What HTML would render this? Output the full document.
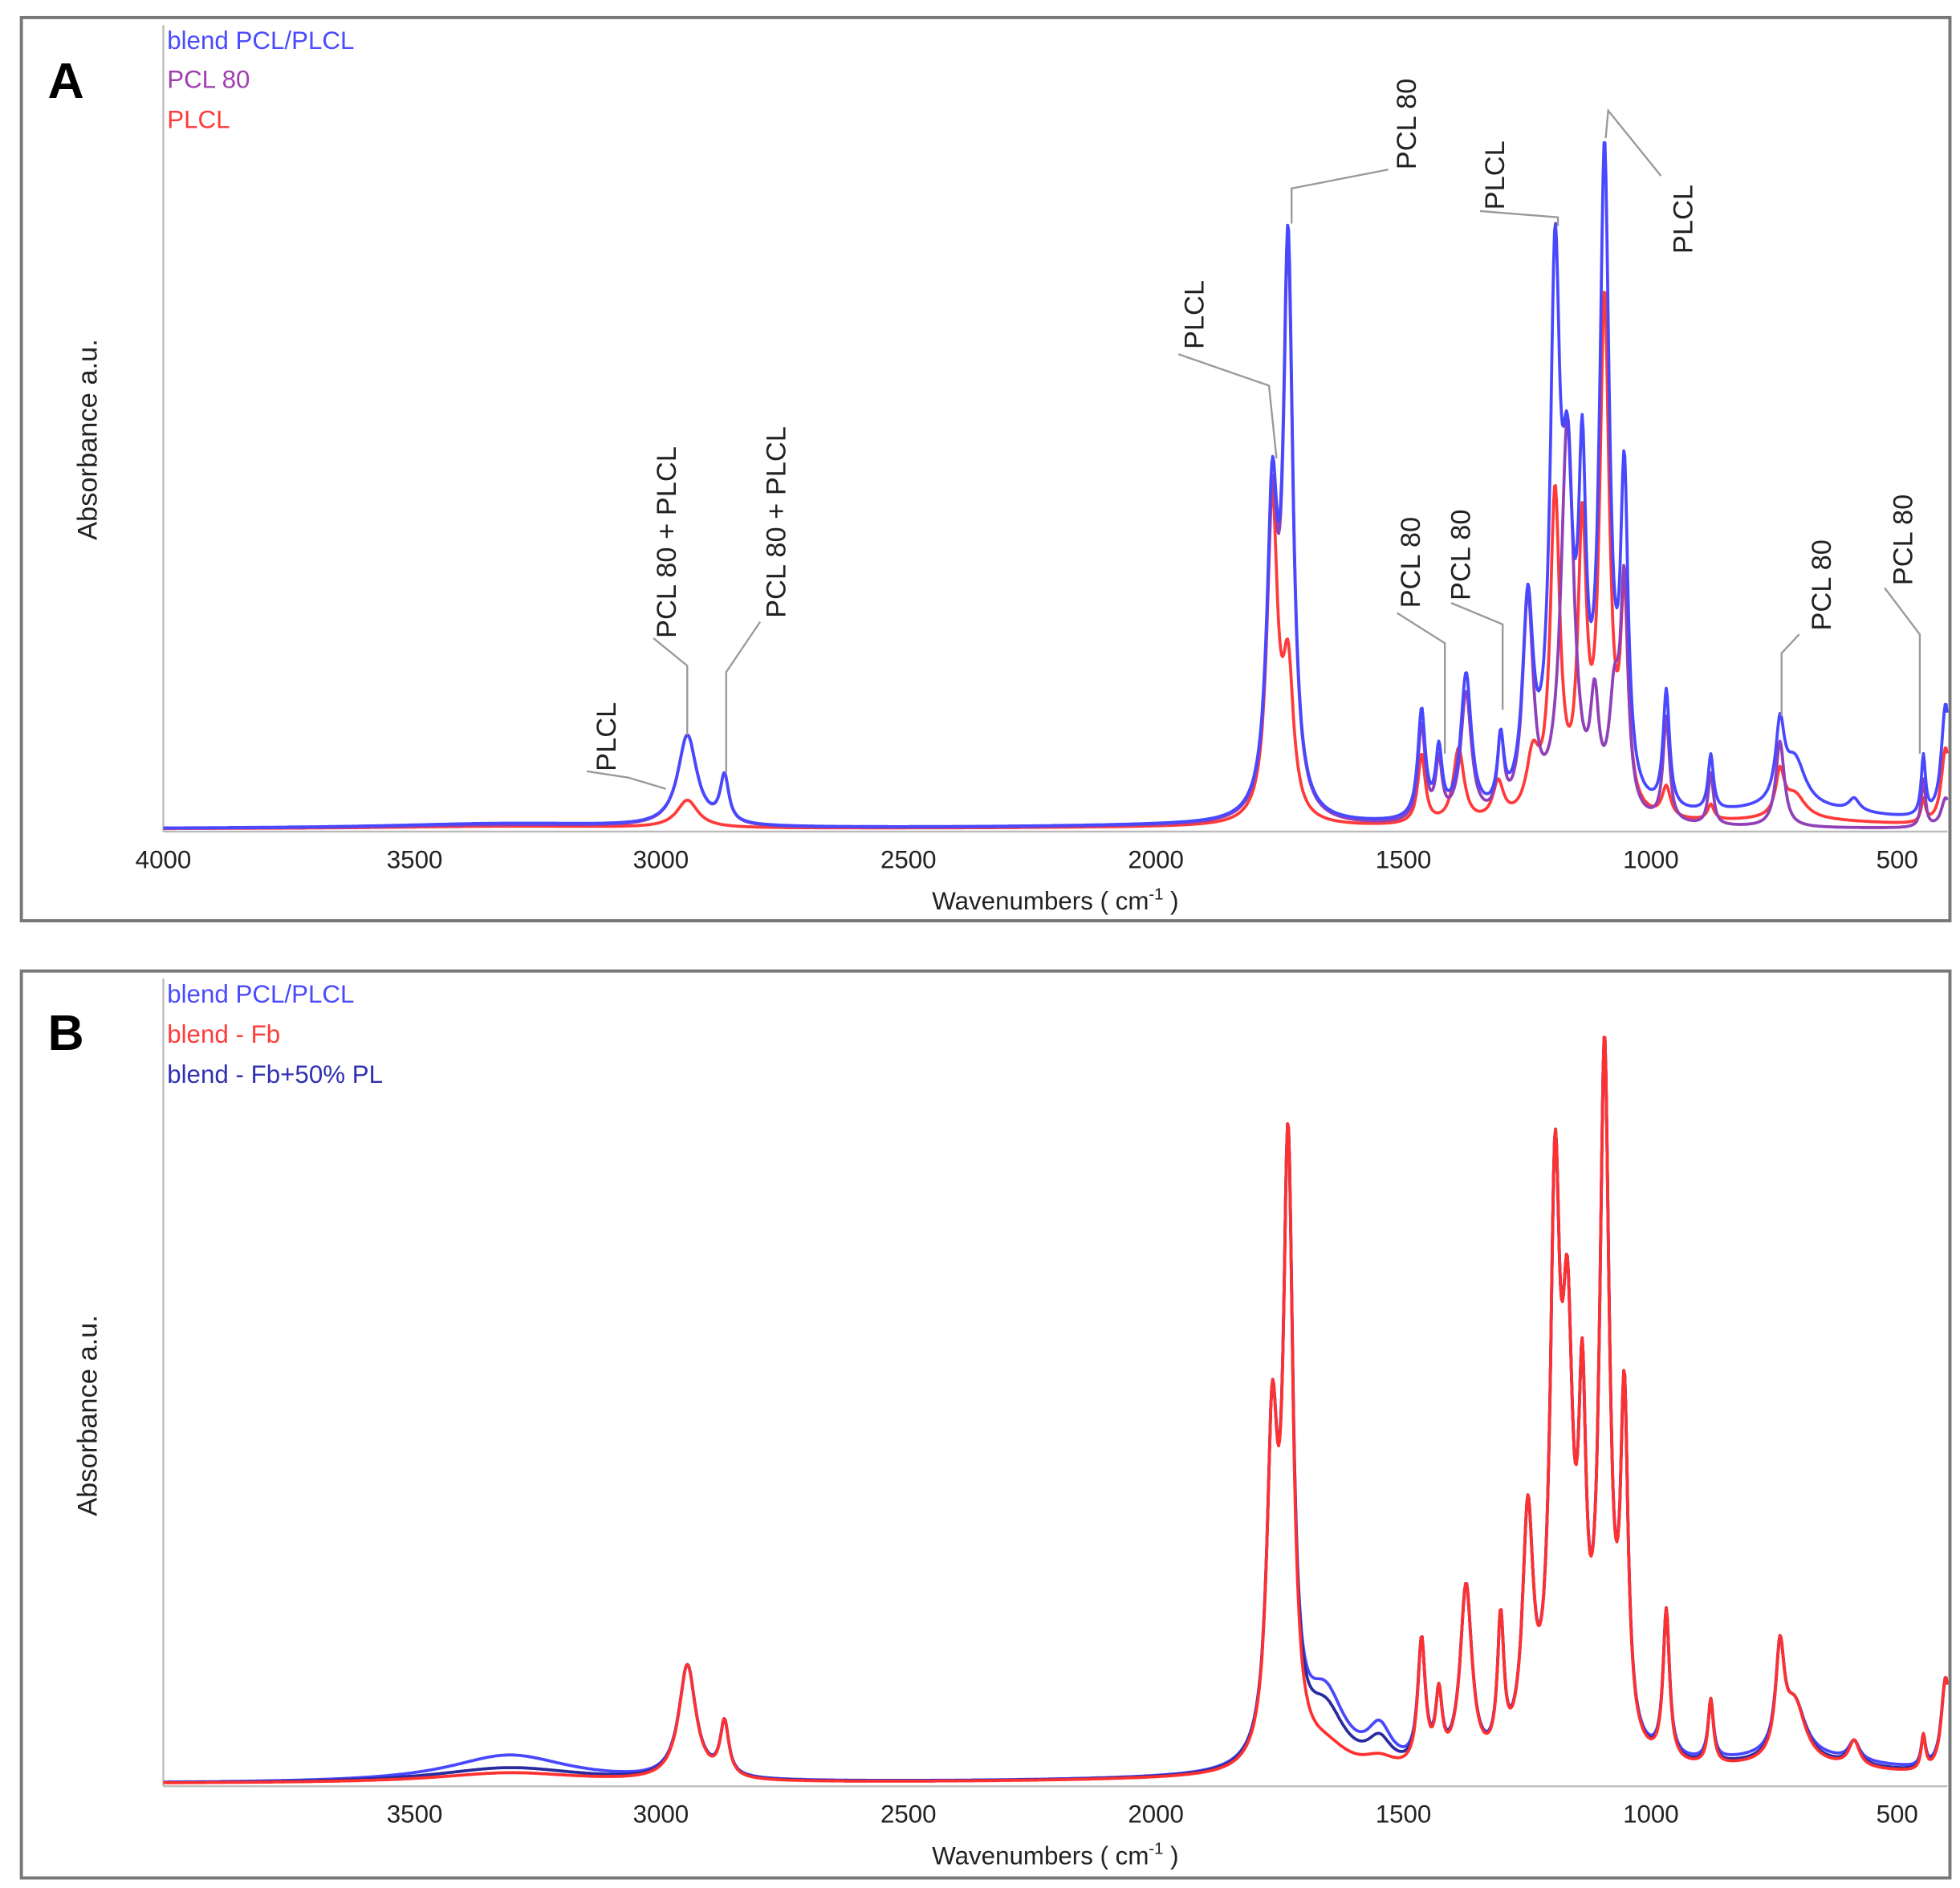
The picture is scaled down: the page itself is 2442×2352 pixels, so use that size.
<!DOCTYPE html>
<html><head><meta charset="utf-8"><style>
html,body{margin:0;padding:0;background:#fff;}
svg{display:block;}
text{font-family:"Liberation Sans",sans-serif;}
</style></head><body>
<svg id="s" width="2442" height="2352" viewBox="0 0 1560 1503" preserveAspectRatio="none" xmlns="http://www.w3.org/2000/svg">
<rect x="0" y="0" width="1560" height="1503" fill="#fff"/>
<rect x="17" y="14" width="1535" height="719" fill="none" stroke="#777" stroke-width="2.5"/>
<line x1="130" y1="20" x2="130" y2="662" stroke="#bbb" stroke-width="1.5"/>
<line x1="130" y1="662" x2="1550" y2="662" stroke="#bbb" stroke-width="1.5"/>
<text x="38" y="78" font-size="40" font-weight="bold">A</text>
<text x="133" y="39" font-size="20" fill="#4a4aff">blend PCL/PLCL</text>
<text x="133" y="70" font-size="20" fill="#a040b0">PCL 80</text>
<text x="133" y="102" font-size="20" fill="#ff3a3a">PLCL</text>
<text transform="translate(77,430) rotate(-90)" font-size="22" fill="#222">Absorbance a.u.</text>
<g font-size="20" fill="#222" text-anchor="middle">
<text x="130" y="691">4000</text><text x="330" y="691">3500</text><text x="526" y="691">3000</text><text x="723" y="691">2500</text><text x="920" y="691">2000</text><text x="1117" y="691">1500</text><text x="1314" y="691">1000</text><text x="1510" y="691">500</text>
<text x="840" y="724">Wavenumbers ( cm<tspan font-size="13" dy="-8">-1</tspan><tspan dy="8"> )</tspan></text>
</g>
<g id="specA"></g>
<g stroke="#999" stroke-width="1.5" fill="none">
<polyline points="467,614 500,619 530,628"/>
<polyline points="520,508 547,530 547,585"/>
<polyline points="605,495 578,535 578,615"/>
<polyline points="938,282 1010,307 1016,365"/>
<polyline points="1105,135 1028,150 1028,178"/>
<polyline points="1178,168 1240,173 1240,180"/>
<polyline points="1322,140 1280,88 1278,110"/>
<polyline points="1112,488 1150,512 1150,600"/>
<polyline points="1155,480 1196,497 1196,565"/>
<polyline points="1432,505 1418,520 1418,570"/>
<polyline points="1500,468 1528,505 1528,600"/>
</g>
<g font-size="22" fill="#222">
<text transform="translate(490,614) rotate(-90)">PLCL</text>
<text transform="translate(538,508) rotate(-90)">PCL 80 + PLCL</text>
<text transform="translate(625,492) rotate(-90)">PCL 80 + PLCL</text>
<text transform="translate(958,278) rotate(-90)">PLCL</text>
<text transform="translate(1127,135) rotate(-90)">PCL 80</text>
<text transform="translate(1197,167) rotate(-90)">PLCL</text>
<text transform="translate(1347,202) rotate(-90)">PLCL</text>
<text transform="translate(1130,484) rotate(-90)">PCL 80</text>
<text transform="translate(1170,478) rotate(-90)">PCL 80</text>
<text transform="translate(1457,502) rotate(-90)">PCL 80</text>
<text transform="translate(1522,466) rotate(-90)">PCL 80</text>
</g>
<rect x="17" y="773" width="1535" height="722" fill="none" stroke="#777" stroke-width="2.5"/>
<line x1="130" y1="779" x2="130" y2="1422" stroke="#bbb" stroke-width="1.5"/>
<line x1="130" y1="1422" x2="1550" y2="1422" stroke="#bbb" stroke-width="1.5"/>
<text x="38" y="836" font-size="40" font-weight="bold">B</text>
<text x="133" y="798" font-size="20" fill="#4a4aff">blend PCL/PLCL</text>
<text x="133" y="830" font-size="20" fill="#ff3a3a">blend - Fb</text>
<text x="133" y="862" font-size="20" fill="#3030b0">blend - Fb+50% PL</text>
<text transform="translate(77,1207) rotate(-90)" font-size="22" fill="#222">Absorbance a.u.</text>
<g font-size="20" fill="#222" text-anchor="middle">
<text x="330" y="1451">3500</text><text x="526" y="1451">3000</text><text x="723" y="1451">2500</text><text x="920" y="1451">2000</text><text x="1117" y="1451">1500</text><text x="1314" y="1451">1000</text><text x="1510" y="1451">500</text>
<text x="840" y="1484">Wavenumbers ( cm<tspan font-size="13" dy="-8">-1</tspan><tspan dy="8"> )</tspan></text>
</g>
<g id="specB"></g>
</svg>
<script>
function X(w){return 130+(4000-w)*0.3935;}
function ev(peaks,w){var y=0;for(var i=0;i<peaks.length;i++){var p=peaks[i];var dx=w-p[0];y+=p[1]*p[2]*p[2]/(dx*dx+p[2]*p[2]);}return y;}
// targets: [center, target height at center, width]
function fit(t,bg){
  var p=t.map(function(a){return [a[0],a[1],a[2]*1.3];});
  var all=function(){return bg.concat(p);};
  for(var k=0;k<200;k++){
    var a=all();
    for(var i=0;i<p.length;i++){var v=ev(a,t[i][0]);p[i][1]+=0.5*(t[i][1]-v);if(p[i][1]<0)p[i][1]=0;}
  }
  return all();
}
function path(peaks,base,color,sw){
  var d="";
  for(var w=4000;w>=392;w-=2){
    var y=ev(peaks,w);
    d+=(d?"L":"M")+X(w).toFixed(1)+","+(base-y).toFixed(1);
  }
  return '<path d="'+d+'" fill="none" stroke="'+color+'" stroke-width="'+sw+'" stroke-linejoin="round"/>';
}
var bgA=[[3300,4,300],[1900,2,400],[700,14,250]];
var blueA=fit([[2940,75,18],[2865,45,8],[1757,295,10],[1725,482,9],[1455,97,7],[1420,70,6],[1365,125,10],[1295,80,6],[1240,195,10],[1185,482,9],[1160,330,10],[1130,330,7],[1085,550,9],[1045,302,7],[960,112,6],[870,60,5],[730,92,8],[700,60,20],[580,25,10],[440,60,4],[395,100,8]],bgA);
var purpA=fit([[2940,75,18],[2865,45,8],[1757,280,10],[1725,470,9],[1455,85,7],[1420,60,6],[1365,110,10],[1295,80,6],[1240,190,10],[1160,330,12],[1105,120,8],[1065,130,10],[1045,210,7],[960,90,6],[870,45,5],[730,70,8],[440,40,4],[395,25,8]],[[3300,3,300],[1900,2,400]]);
var redA=fit([[2940,23,20],[1757,270,10],[1725,150,10],[1455,60,7],[1380,65,10],[1300,40,10],[1230,70,12],[1185,275,9],[1130,260,8],[1085,430,9],[1045,200,7],[960,35,8],[870,20,6],[730,50,8],[700,30,20],[440,25,4],[395,65,8]],[[3300,2,300],[1900,1,400],[700,6,250]]);
document.getElementById("specA").innerHTML=path(redA,660,"#ff3a3a",2.4)+path(purpA,660,"#9040b8",2.4)+path(blueA,660,"#4848ff",2.4);
var coreB=[[2940,95,16],[2865,52,8],[1757,320,10],[1725,527,9],[1455,118,7],[1420,80,6],[1365,160,11],[1295,140,6],[1240,230,10],[1185,520,9],[1160,420,10],[1130,355,7],[1085,598,9],[1045,330,7],[960,140,6],[870,68,5],[730,118,8],[700,70,20],[580,35,10],[440,40,4],[395,85,8]];
var blueB=fit(coreB,[[3300,22,150],[1650,60,50],[1540,30,30],[1900,2,400],[700,18,300]]);
var darkB=fit(coreB,[[3300,12,180],[1650,48,50],[1540,22,30],[1900,2,400],[700,14,300]]);
var redB=fit(coreB,[[3300,8,180],[1650,20,60],[1540,10,40],[1900,2,400],[700,12,300]]);
document.getElementById("specB").innerHTML=path(blueB,1420,"#4848ff",2.4)+path(darkB,1420,"#2a2aa0",2.4)+path(redB,1420,"#ff3030",2.4);
</script>
</body></html>
